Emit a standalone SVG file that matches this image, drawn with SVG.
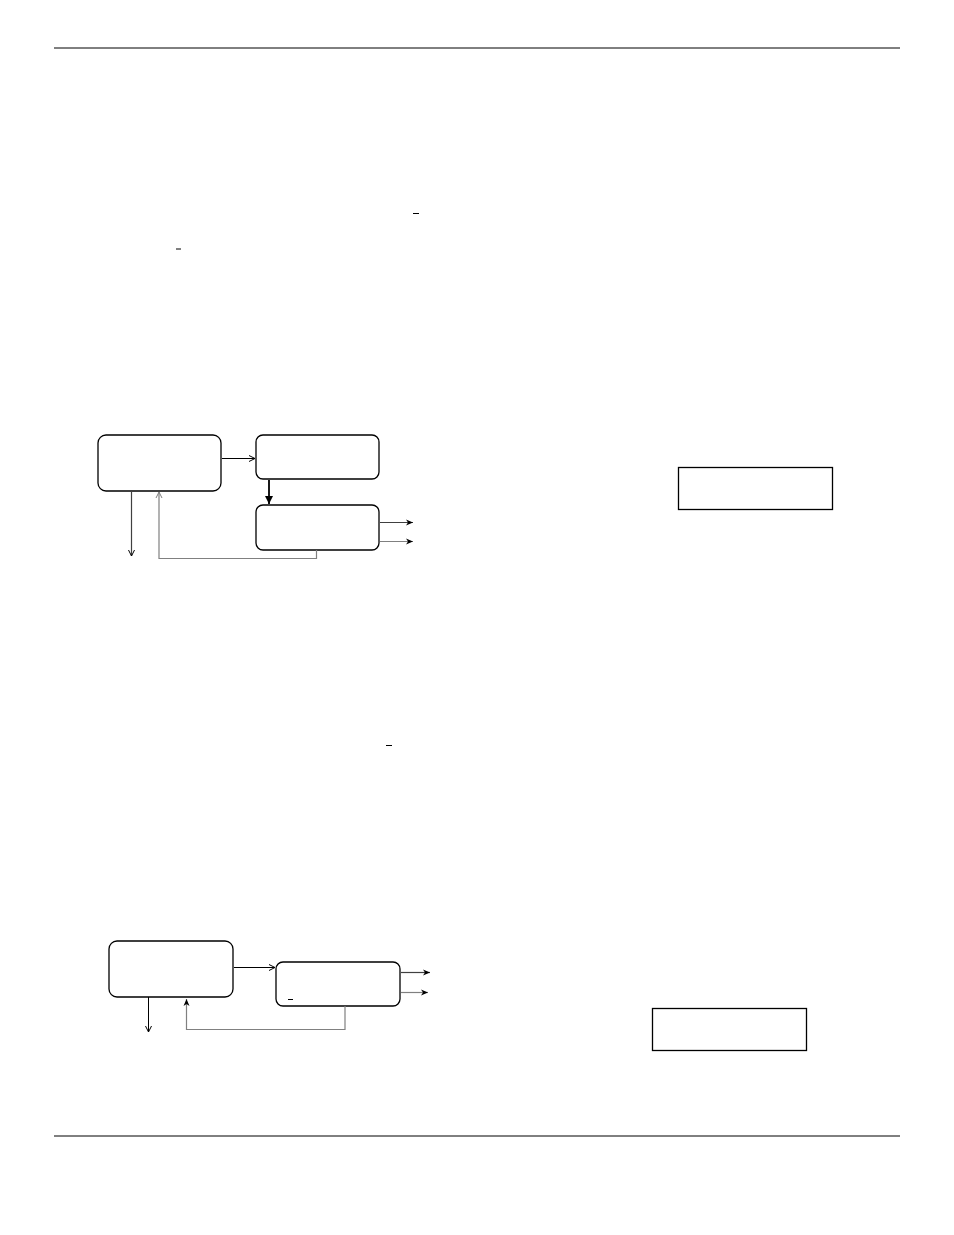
<svg xmlns="http://www.w3.org/2000/svg" width="954" height="1235" viewBox="0 0 954 1235">
<style>
.box{fill:#fff;stroke:#000;stroke-width:1.3}
.plain{fill:#fff;stroke:#000;stroke-width:1.3}
.c{fill:none;stroke:#000;stroke-width:1}
.g{fill:none;stroke:#808080;stroke-width:1.2}
.dg{fill:none;stroke:#404040;stroke-width:1.2}
.rule{stroke:#000;stroke-width:1}
.dash{stroke:#000;stroke-width:1}
</style>
<defs>
<marker id="open" markerWidth="8" markerHeight="8" refX="7" refY="4" orient="auto" markerUnits="userSpaceOnUse">
<path d="M1,1 L7,4 L1,7" fill="none" stroke="#000" stroke-width="1"/>
</marker>
<marker id="openg" markerWidth="8" markerHeight="8" refX="7" refY="4" orient="auto" markerUnits="userSpaceOnUse">
<path d="M1,1 L7,4 L1,7" fill="none" stroke="#808080" stroke-width="1"/>
</marker>
<marker id="fill" markerWidth="10" markerHeight="10" refX="8" refY="5" orient="auto" markerUnits="userSpaceOnUse">
<path d="M0,1 L8,5 L0,9 Z" fill="#000"/>
</marker>
<marker id="fills" markerWidth="8" markerHeight="8" refX="7" refY="4" orient="auto" markerUnits="userSpaceOnUse">
<path d="M0,1 L7,4 L0,7 L2,4 Z" fill="#000"/>
</marker>
</defs>
<line class="rule" x1="54" y1="48" x2="900" y2="48"/>
<line class="rule" x1="54" y1="1136" x2="900" y2="1136"/>
<line class="dash" x1="413" y1="213.5" x2="419" y2="213.5"/>
<line class="dash" x1="176" y1="249" x2="181" y2="249"/>
<line class="dash" x1="386" y1="745.5" x2="392" y2="745.5"/>
<g id="n1"><rect class="box" x="98" y="435" width="123" height="56" rx="8"/></g>
<g id="n2"><rect class="box" x="256" y="435" width="123" height="44" rx="7"/></g>
<g id="n3"><rect class="box" x="256" y="505" width="123" height="45" rx="7"/></g>
<g id="n4"><rect class="plain" x="678.5" y="467.5" width="154" height="42"/></g>
<g id="n5"><rect class="box" x="109" y="941" width="124" height="56" rx="8"/></g>
<g id="n6"><rect class="box" x="276" y="962" width="124" height="44" rx="7"/><line class="dash" x1="288" y1="999.5" x2="293" y2="999.5"/></g>
<g id="n7"><rect class="plain" x="652.5" y="1008.5" width="154" height="42"/></g>
<g id="connectors">
<line class="c" x1="222" y1="458.5" x2="255" y2="458.5" marker-end="url(#open)"/>
<line x1="269" y1="480" x2="269" y2="504" stroke="#000" stroke-width="1.8" marker-end="url(#fill)"/>
<line class="dg" x1="131.5" y1="491" x2="131.5" y2="556" marker-end="url(#open)"/>
<polyline class="g" points="316.5,550 316.5,558.5 159,558.5 159,492" marker-end="url(#openg)"/>
<line class="dg" x1="380" y1="522.5" x2="413" y2="522.5" marker-end="url(#fills)"/>
<line class="g" x1="380" y1="541.5" x2="413" y2="541.5" marker-end="url(#fills)"/>
<line class="c" x1="234" y1="967.5" x2="275" y2="967.5" marker-end="url(#open)"/>
<line class="c" x1="148.5" y1="997" x2="148.5" y2="1032" marker-end="url(#open)"/>
<polyline class="g" points="345,1006 345,1029.5 186.5,1029.5 186.5,999" marker-end="url(#fills)"/>
<line class="dg" x1="401" y1="972.5" x2="430" y2="972.5" marker-end="url(#fills)"/>
<line class="g" x1="401" y1="992.5" x2="428" y2="992.5" marker-end="url(#fills)"/>
</g>
</svg>
